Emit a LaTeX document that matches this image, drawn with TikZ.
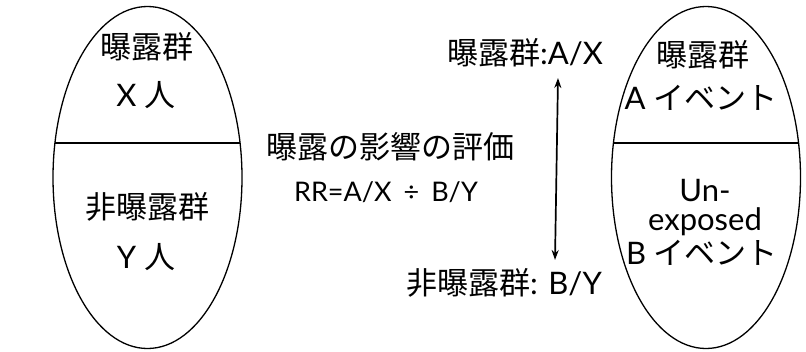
\documentclass[tikz,border=0pt]{standalone}
\usepackage{fontspec}
\setmainfont{Lato}
\newfontfamily\cjk{Noto Sans CJK JP}
\usetikzlibrary{arrows.meta,shapes.geometric}
\tikzset{
  txt/.style={inner sep=0pt, font=\fontsize{31}{36}\selectfont},
  small/.style={inner sep=0pt, font=\fontsize{27}{32}\selectfont},
  oval/.style={draw, line width=1.3pt, ellipse, inner sep=0pt, minimum width=189pt, minimum height=342pt},
  divider/.style={line width=1.6pt},
  dbl/.style={line width=1.7pt, {Stealth[length=10pt,width=7pt]}-{Stealth[length=10pt,width=7pt]}}
}
\begin{document}
\begin{tikzpicture}[x=1pt,y=-1pt]
\useasboundingbox (0,0) rectangle (806,351);
% left ellipse
\node[oval] (L) at (147.5,177.5) {};
\coordinate (L1) at (55,143);
\coordinate (L2) at (240,143);
\draw[divider] (L1) -- (L2);
\node[txt] (l1) at (147,47) {\cjk 曝露群};
\node[txt] (l2) at (146,95) {X \cjk 人};
\node[txt] (l3) at (147.5,207) {\cjk 非曝露群};
\node[txt] (l4) at (146,257) {Y \cjk 人};
% right ellipse
\node[oval] (R) at (706,177.5) {};
\coordinate (R1) at (614,143);
\coordinate (R2) at (798,143);
\draw[divider] (R1) -- (R2);
\node[txt] (r1) at (703,55) {\cjk 曝露群};
\node[txt] (r2) at (701,98) {A \cjk イベント};
\node[txt] (r3) at (705,191) {Un-};
\node[txt] (r4) at (705,222) {exposed};
\node[txt] (r5) at (702,253) {B \cjk イベント};
% middle
\node[txt] (m1) at (390,147) {\cjk 曝露の影響の評価};
\node[small] (m2) at (386,192) {RR=A/X\hspace{12pt}÷\hspace{12pt}B/Y};
\node[txt] (t1) at (525,53) {{\cjk 曝露群}:A/X};
\node[txt] (t2) at (504,283) {{\cjk 非曝露群}: B/Y};
\coordinate (a1) at (558,78);
\coordinate (a2) at (555,260);
\draw[dbl] (a1) -- (a2);
\end{tikzpicture}
\end{document}
